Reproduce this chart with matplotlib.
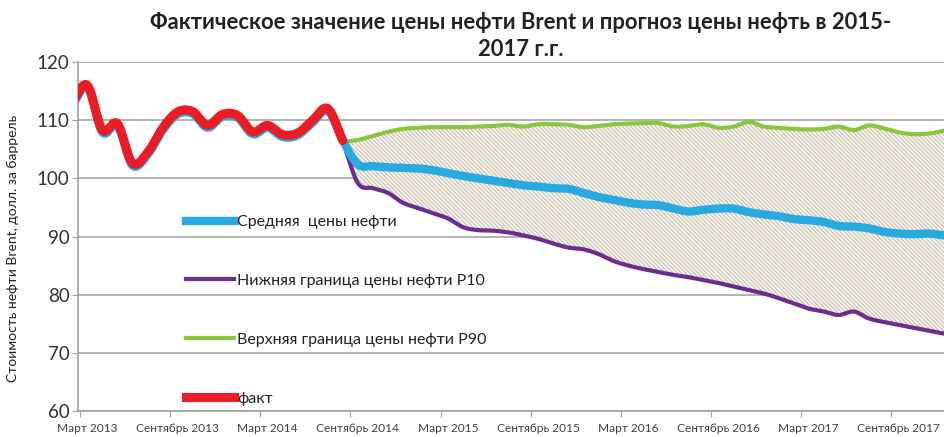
import numpy as np
import matplotlib
matplotlib.use("Agg")
import matplotlib.pyplot as plt
from matplotlib.lines import Line2D

plt.rcParams['font.family'] = ['Lato', 'DejaVu Sans']
plt.rcParams['hatch.linewidth'] = 1.2

# ---- data (month index: 0 = Март 2013) ----
fact_start = -1
fact = [113.0, 116.0, 108.3, 109.4, 102.6, 104.4, 108.6, 111.4, 111.5, 109.1,
        111.0, 110.8, 108.0, 109.1, 107.5, 107.8, 110.0, 112.0, 106.5]

fc_start = 17
avg = [106.5, 102.4, 102.1, 101.9, 101.8, 101.7, 101.4, 100.9, 100.4, 100.0,
       99.6, 99.2, 98.8, 98.6, 98.3, 98.2, 97.5, 96.8, 96.3, 95.8,
       95.5, 95.4, 94.8, 94.3, 94.6, 94.8, 94.8, 94.2, 93.8, 93.5,
       93.0, 92.8, 92.5, 91.8, 91.7, 91.4, 90.8, 90.5, 90.4, 90.5, 90.2]
p90 = [106.3, 106.6, 107.3, 108.0, 108.5, 108.7, 108.8, 108.8, 108.8, 108.9,
       109.0, 109.2, 108.9, 109.3, 109.3, 109.2, 108.8, 109.0, 109.3, 109.4,
       109.5, 109.5, 108.9, 109.0, 109.3, 108.7, 108.9, 109.7, 108.9, 108.7,
       108.5, 108.4, 108.5, 108.9, 108.3, 109.1, 108.6, 107.9, 107.6, 107.7, 108.2]
p10 = [106.3, 99.2, 98.3, 97.5, 95.8, 94.9, 94.0, 93.1, 91.6, 91.1,
       91.0, 90.7, 90.2, 89.6, 88.8, 88.1, 87.8, 87.0, 85.8, 85.0,
       84.4, 83.9, 83.4, 83.0, 82.5, 82.0, 81.4, 80.8, 80.2, 79.4,
       78.5, 77.6, 77.1, 76.5, 77.1, 75.9, 75.3, 74.8, 74.3, 73.8, 73.3]

tick_labels = ["Март 2013", "Сентябрь 2013", "Март 2014", "Сентябрь 2014",
               "Март 2015", "Сентябрь 2015", "Март 2016", "Сентябрь 2016",
               "Март 2017", "Сентябрь 2017"]

labels = ["Средняя  цены нефти", "Нижняя граница цены нефти P10",
          "Верхняя граница цены нефти P90", "факт"]

title = "Фактическое значение цены нефти Brent и прогноз цены нефть в 2015-\n2017 г.г."
ylabel = "Стоимость нефти Brent, долл. за баррель"

C_BLUE = "#27aae1"
C_RED = "#ec1c24"
C_GREEN = "#8cc63f"
C_PURPLE = "#6b2d90"
C_HATCH = "#d2cbb8"


def smooth(x, y, n=12):
    """Catmull-Rom spline through points (Excel-style smoothed line)."""
    x = np.asarray(x, float)
    y = np.asarray(y, float)
    px = np.concatenate([[2 * x[0] - x[1]], x, [2 * x[-1] - x[-2]]])
    py = np.concatenate([[2 * y[0] - y[1]], y, [2 * y[-1] - y[-2]]])
    xs, ys = [], []
    s = np.linspace(0, 1, n, endpoint=False)
    for i in range(1, len(px) - 2):
        for arr, out in ((px, xs), (py, ys)):
            p0, p1, p2, p3 = arr[i - 1], arr[i], arr[i + 1], arr[i + 2]
            out.extend(0.5 * ((2 * p1) + (-p0 + p2) * s +
                              (2 * p0 - 5 * p1 + 4 * p2 - p3) * s ** 2 +
                              (-p0 + 3 * p1 - 3 * p2 + p3) * s ** 3))
    xs.append(x[-1])
    ys.append(y[-1])
    return np.array(xs), np.array(ys)


t_fact = np.arange(fact_start, fact_start + len(fact))
t_fc = np.arange(fc_start, fc_start + len(avg))

fig = plt.figure(figsize=(9.44, 4.37), dpi=100)
ax = fig.add_axes([78 / 944, 1 - 411 / 437, 1 - 78 / 944, (411 - 62) / 437])

# hatched band between P10 and P90
sx, s10 = smooth(t_fc, p10)
_, s90 = smooth(t_fc, p90)
ax.fill_between(sx, s10, s90, facecolor="white", edgecolor=C_HATCH,
                hatch="\\" * 8, linewidth=0, zorder=1)

# average line over history + forecast
t_avg = np.concatenate([t_fact[:-1], t_fc])
avg_full = np.concatenate([np.array(fact[:-1]) - 0.4, avg])
ax.plot(*smooth(t_fc, p90), color=C_GREEN, lw=3.0, zorder=3, solid_capstyle="round")
ax.plot(*smooth(t_fc, p10), color=C_PURPLE, lw=3.0, zorder=3, solid_capstyle="round")
ax.plot(*smooth(t_avg, avg_full), color=C_BLUE, lw=6.0, zorder=4, solid_capstyle="round")
ax.plot(*smooth(t_fact, fact), color=C_RED, lw=6.5, zorder=5, solid_capstyle="round")

# axes styling
ax.set_xlim(-0.62, 57.0)
ax.set_ylim(60, 120)
ax.set_yticks(np.arange(60, 121, 10))
ax.tick_params(axis="y", labelsize=13.5, length=4, color="#a0a0a0",
               labelcolor="#333333", pad=2)
ax.grid(axis="y", color="#a6a6a6", lw=1.2, zorder=0)
ax.set_axisbelow(True)

major = np.arange(len(tick_labels)) * 6 - 0.5
ax.set_xticks(major)
ax.set_xticklabels([])
ax.set_xticks(np.arange(len(tick_labels)) * 6, minor=True)
ax.set_xticklabels(tick_labels, minor=True, fontsize=8.6, color="#404040")
ax.tick_params(axis="x", which="major", length=4, color="#a0a0a0")
ax.tick_params(axis="x", which="minor", length=0, pad=9)

for side in ("top", "right"):
    ax.spines[side].set_visible(False)
for side in ("left", "bottom"):
    ax.spines[side].set_color("#a0a0a0")
    ax.spines[side].set_linewidth(1.2)

fig.text(13 / 944, 1 - 248 / 437, ylabel, rotation=90, fontsize=10,
         ha="center", va="center", color="#222222")
fig.text(521 / 944, 1 - 36 / 437, title, fontsize=15.8, fontweight="bold",
         ha="center", va="center", linespacing=1.35, color="#222222")

handles = [Line2D([], [], color=C_BLUE, lw=6.0),
           Line2D([], [], color=C_PURPLE, lw=3.0),
           Line2D([], [], color=C_GREEN, lw=3.0),
           Line2D([], [], color=C_RED, lw=6.5)]
fig.legend(handles, labels, loc="upper left",
           bbox_to_anchor=(186 / 944, 1 - 215 / 437),
           frameon=False, fontsize=11.5, handlelength=3.0, handletextpad=0.2,
           labelspacing=2.8, borderpad=0, borderaxespad=0,
           labelcolor="#222222")

fig.savefig("out.png", dpi=100)
